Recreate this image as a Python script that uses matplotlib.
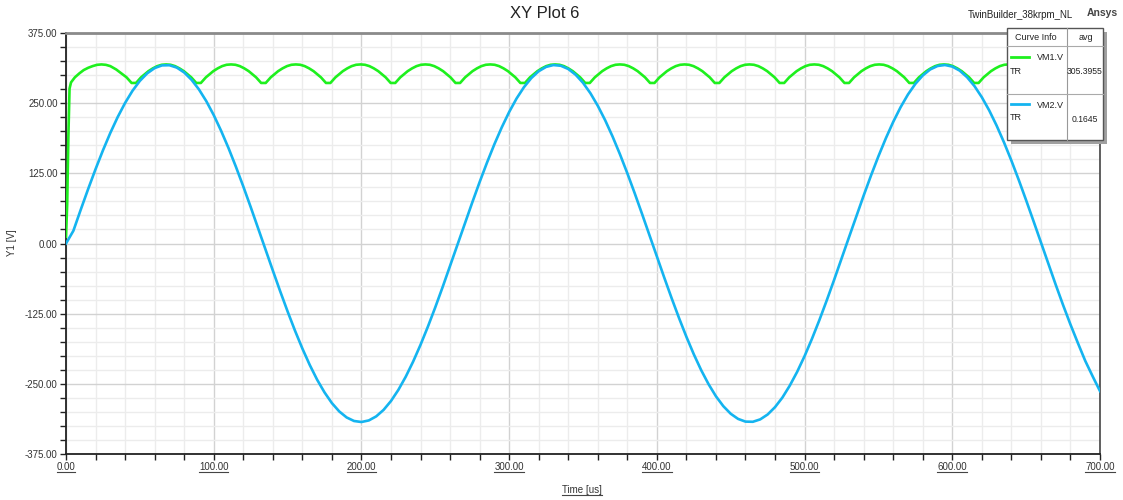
import matplotlib
matplotlib.use('Agg')
import matplotlib.pyplot as plt
from matplotlib.ticker import MultipleLocator, FormatStrFormatter
from matplotlib.patches import Rectangle
from matplotlib.lines import Line2D

plt.rcParams['font.family'] = ['Liberation Sans', 'DejaVu Sans']

W, H = 1123, 500

# VM2.V (blue), read every 5 us
vm2_t = list(range(0, 705, 5))
vm2_v = [0, 22.7, 60.4, 97.1, 132.4, 165.9, 197.0, 225.3, 250.4, 272.0,
         289.7, 303.2, 312.5, 317.3, 317.6, 313.4, 304.7, 291.6, 274.5, 253.5,
         228.8, 200.8, 170.1, 136.9, 101.8, 65.2, 27.7, -10.2, -48.0, -85.1,
         -120.9, -155.1, -187.0, -216.3, -242.6, -265.2, -284.3, -299.2, -309.9, -316.2,
         -318.0, -315.2, -308.0, -296.4, -280.6, -260.8, -237.3, -210.4, -180.5, -148.1,
         -113.6, -77.4, -40.1, -2.3, 35.6, 72.9, 109.3, 144.0, 176.8, 206.9,
         234.2, 258.2, 278.4, 294.7, 306.9, 314.6, 317.9, 316.6, 310.9, 300.7,
         286.3, 267.8, 245.4, 219.6, 190.7, 159.1, 125.2, 89.5, 52.5, 14.8,
         -23.1, -60.7, -97.4, -132.7, -166.2, -197.3, -225.6, -250.6, -272.2, -289.8,
         -303.3, -312.5, -317.3, -317.6, -313.3, -304.6, -291.5, -274.4, -253.1, -228.5,
         -200.6, -169.8, -136.6, -101.4, -64.8, -27.3, 10.6, 48.3, 85.4, 121.3,
         155.4, 187.3, 216.6, 242.8, 265.5, 284.4, 299.3, 310.0, 316.2, 318.0,
         315.2, 308.0, 296.3, 280.5, 260.6, 237.1, 210.1, 180.2, 147.8, 113.2,
         77.0, 39.8, 1.9, -35.9, -73.3, -109.6, -144.3, -177.1, -209.0, -236.5,
         -263.0]

# VM1.V (green): start-up, then one row per ripple bump
vm1_t = [0, 0.8, 1.6, 2.4, 3.4, 6, 9, 12, 15, 18, 21, 24, 27, 30, 34, 38, 41, 44.4,
         47.4, 50.8, 55.8, 58.8, 61.8, 64.8, 67.8, 70.8, 73.8, 76.8, 79.8, 84.8, 88.2,
         91.3, 94.7, 99.7, 102.7, 105.7, 108.7, 111.7, 114.7, 117.7, 120.7, 123.7, 128.7, 132.1,
         135.2, 138.6, 143.6, 146.6, 149.6, 152.6, 155.6, 158.6, 161.6, 164.6, 167.6, 172.6, 176.0,
         179.0, 182.4, 187.4, 190.4, 193.4, 196.4, 199.4, 202.4, 205.4, 208.4, 211.4, 216.4, 219.8,
         222.9, 226.3, 231.3, 234.3, 237.3, 240.3, 243.3, 246.3, 249.3, 252.3, 255.3, 260.3, 263.7,
         266.8, 270.2, 275.2, 278.2, 281.2, 284.2, 287.2, 290.2, 293.2, 296.2, 299.2, 304.2, 307.6,
         310.7, 314.1, 319.1, 322.1, 325.1, 328.1, 331.1, 334.1, 337.1, 340.1, 343.1, 348.1, 351.5,
         354.6, 358.0, 363.0, 366.0, 369.0, 372.0, 375.0, 378.0, 381.0, 384.0, 387.0, 392.0, 395.4,
         398.4, 401.8, 406.8, 409.8, 412.8, 415.8, 418.8, 421.8, 424.8, 427.8, 430.8, 435.8, 439.2,
         442.3, 445.7, 450.7, 453.7, 456.7, 459.7, 462.7, 465.7, 468.7, 471.7, 474.7, 479.7, 483.1,
         486.2, 489.6, 494.6, 497.6, 500.6, 503.6, 506.6, 509.6, 512.6, 515.6, 518.6, 523.6, 527.0,
         530.1, 533.5, 538.5, 541.5, 544.5, 547.5, 550.5, 553.5, 556.5, 559.5, 562.5, 567.5, 570.9,
         574.0, 577.4, 582.4, 585.4, 588.4, 591.4, 594.4, 597.4, 600.4, 603.4, 606.4, 611.4, 614.8,
         617.8, 621.2, 626.2, 629.2, 632.2, 635.2, 638.2, 641.2, 644.2, 647.2, 650.2, 655.2, 658.6,
         661.7, 665.1, 670.1, 673.1, 676.1, 679.1, 682.1, 685.1, 688.1, 691.1, 694.1, 699.1, 702.5]
vm1_v = [12, 70, 190, 276, 287, 296, 303, 309, 313, 316, 318.3, 319, 318.3, 316, 310, 302, 296, 286,
         286, 296, 307, 312, 316, 318.4, 319, 318.4, 316, 312, 307, 296, 286,
         286, 296, 307, 312, 316, 318.4, 319, 318.4, 316, 312, 307, 296, 286,
         286, 296, 307, 312, 316, 318.4, 319, 318.4, 316, 312, 307, 296, 286,
         286, 296, 307, 312, 316, 318.4, 319, 318.4, 316, 312, 307, 296, 286,
         286, 296, 307, 312, 316, 318.4, 319, 318.4, 316, 312, 307, 296, 286,
         286, 296, 307, 312, 316, 318.4, 319, 318.4, 316, 312, 307, 296, 286,
         286, 296, 307, 312, 316, 318.4, 319, 318.4, 316, 312, 307, 296, 286,
         286, 296, 307, 312, 316, 318.4, 319, 318.4, 316, 312, 307, 296, 286,
         286, 296, 307, 312, 316, 318.4, 319, 318.4, 316, 312, 307, 296, 286,
         286, 296, 307, 312, 316, 318.4, 319, 318.4, 316, 312, 307, 296, 286,
         286, 296, 307, 312, 316, 318.4, 319, 318.4, 316, 312, 307, 296, 286,
         286, 296, 307, 312, 316, 318.4, 319, 318.4, 316, 312, 307, 296, 286,
         286, 296, 307, 312, 316, 318.4, 319, 318.4, 316, 312, 307, 296, 286,
         286, 296, 307, 312, 316, 318.4, 319, 318.4, 316, 312, 307, 296, 286,
         286, 296, 307, 312, 316, 318.4, 319, 318.4, 316, 312, 307, 296, 286]

legend_names = ['VM1.V', 'VM2.V']
legend_avg = ['305.3955', '0.1645']
green = '#1ef01e'
blue = '#14b4f0'


def fx(px):
    return px / W


def fy(py):
    return 1 - py / H


fig = plt.figure(figsize=(W / 100, H / 100), dpi=100)
ax = fig.add_axes([fx(66), fy(454), (1100 - 66) / W, (454 - 33) / H])

ax.plot(vm1_t, vm1_v, color=green, lw=1.9, zorder=3)
ax.plot(vm2_t, vm2_v, color=blue, lw=1.9, zorder=4)

ax.set_xlim(0, 700)
ax.set_ylim(-375, 375)
ax.xaxis.set_major_locator(MultipleLocator(100))
ax.xaxis.set_minor_locator(MultipleLocator(20))
ax.yaxis.set_major_locator(MultipleLocator(125))
ax.yaxis.set_minor_locator(MultipleLocator(25))
ax.xaxis.set_major_formatter(FormatStrFormatter('%.2f'))
ax.yaxis.set_major_formatter(FormatStrFormatter('%.2f'))
ax.grid(which='major', color='#d2d2d2', lw=1.0, zorder=0)
ax.grid(which='minor', color='#ececec', lw=1.0, zorder=0)
ax.set_axisbelow(True)
ax.tick_params(which='both', direction='out', length=4, width=1, color='#222',
               labelsize=7, labelcolor='#333', pad=2)

for s in ['left', 'bottom']:
    ax.spines[s].set_color('#222')
    ax.spines[s].set_linewidth(1.3)
ax.spines['top'].set_color('#8a8a8a')
ax.spines['top'].set_linewidth(2)
ax.spines['right'].set_color('#444')
ax.spines['right'].set_linewidth(1.2)

# titles and axis names
fig.text(fx(545), fy(13), 'XY Plot 6', ha='center', va='center', fontsize=12, color='#222')
fig.text(fx(1020), fy(15), 'TwinBuilder_38krpm_NL', ha='center', va='center', fontsize=7, color='#222')
fig.text(fx(1102), fy(13), 'Ansys', ha='center', va='center', fontsize=7.5,
         fontweight='bold', color='#444')
fig.text(fx(12), fy(243), 'Y1 [V]', ha='center', va='center', rotation=90, fontsize=7, color='#333')
xlab = fig.text(fx(582), fy(490), 'Time [us]', ha='center', va='center', fontsize=7, color='#333')

# legend table
x0, x1, xm = 1007, 1103, 1067
y0, y1 = 28, 140
fig.add_artist(Rectangle((fx(x0 + 4), fy(y1 + 4)), (x1 - x0) / W, (y1 - y0) / H,
                         transform=fig.transFigure, facecolor='#a0a0a0', edgecolor='none', zorder=5))
fig.add_artist(Rectangle((fx(x0), fy(y1)), (x1 - x0) / W, (y1 - y0) / H,
                         transform=fig.transFigure, facecolor='white', edgecolor='#555', lw=1, zorder=6))
fig.add_artist(Line2D([fx(xm), fx(xm)], [fy(y0), fy(y1)], transform=fig.transFigure,
                      color='#999', lw=0.8, zorder=7))
for yy in [46, 94]:
    fig.add_artist(Line2D([fx(x0), fx(x1)], [fy(yy), fy(yy)], transform=fig.transFigure,
                          color='#aaa', lw=0.8, zorder=7))
fig.text(fx(1036), fy(38), 'Curve Info', ha='center', va='center', fontsize=6.5, color='#222', zorder=8)
fig.text(fx(1086), fy(38), 'avg', ha='center', va='center', fontsize=6.5, color='#222', zorder=8)
for i, (name, avg, col) in enumerate(zip(legend_names, legend_avg, [green, blue])):
    yl = 57 + i * 47
    fig.add_artist(Line2D([fx(1011), fx(1029)], [fy(yl), fy(yl)], transform=fig.transFigure,
                          color=col, lw=2, zorder=8))
    fig.text(fx(1037), fy(yl + 1), name, ha='left', va='center', fontsize=6.5, color='#222', zorder=8)
    fig.text(fx(1010), fy(yl + 14), 'TR', ha='left', va='center', fontsize=6.5, color='#222', zorder=8)
    fig.text(fx(1085), fy(yl + 15), avg, ha='center', va='center', fontsize=6.2, color='#222', zorder=8)

# underline x tick labels and x axis name
fig.canvas.draw()
inv = fig.transFigure.inverted()
items = [t for t in ax.get_xticklabels() if t.get_text() and 0 <= t.get_position()[0] <= 700]
items.append(xlab)
for t in items:
    bb = t.get_window_extent()
    (a, b) = inv.transform((bb.x0, bb.y0 + 0.5))
    (c, d) = inv.transform((bb.x1, bb.y0 + 0.5))
    fig.add_artist(Line2D([a, c], [b, d], transform=fig.transFigure, color='#444', lw=0.8))

fig.savefig('out.png', dpi=100)
